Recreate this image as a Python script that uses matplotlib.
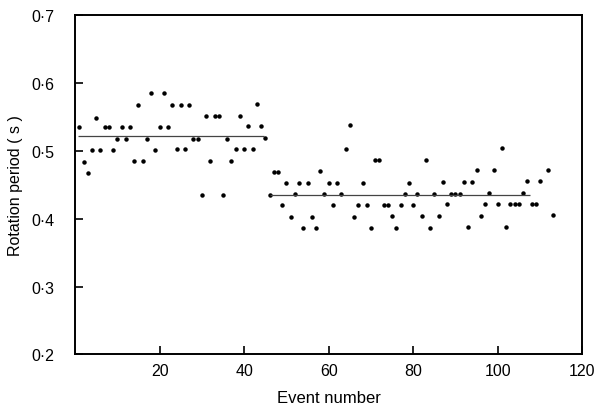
import numpy as np
import matplotlib.pyplot as plt
from matplotlib.ticker import FuncFormatter

# event numbers and rotation period (s)
events_1 = list(range(1, 46))
period_1 = [0.535, 0.484, 0.467, 0.501, 0.549, 0.501, 0.535, 0.535, 0.501, 0.517,
            0.535, 0.518, 0.535, 0.485, 0.567, 0.485, 0.518, 0.585, 0.501, 0.535,
            0.585, 0.535, 0.568, 0.502, 0.568, 0.502, 0.568, 0.518, 0.518, 0.435,
            0.551, 0.485, 0.551, 0.551, 0.435, 0.518, 0.485, 0.502, 0.551, 0.502,
            0.536, 0.502, 0.569, 0.536, 0.519]

events_2 = list(range(46, 111)) + [112, 113]
period_2 = [0.435, 0.469, 0.469, 0.420, 0.452, 0.403, 0.436, 0.452, 0.387, 0.452,
            0.403, 0.387, 0.470, 0.436, 0.453, 0.420, 0.453, 0.436, 0.503, 0.538,
            0.403, 0.420, 0.453, 0.420, 0.387, 0.487, 0.487, 0.420, 0.420, 0.404,
            0.387, 0.420, 0.437, 0.453, 0.420, 0.437, 0.404, 0.487, 0.387, 0.437,
            0.404, 0.454, 0.421, 0.437, 0.437, 0.437, 0.454, 0.388, 0.454, 0.471,
            0.404, 0.422, 0.438, 0.471, 0.422, 0.504, 0.388, 0.422, 0.422, 0.422,
            0.438, 0.455, 0.422, 0.422, 0.455, 0.472, 0.405]

# mean levels drawn as horizontal lines
mean_1, span_1 = 0.522, (0.7, 44.8)
mean_2, span_2 = 0.435, (46, 107.6)

plt.rcParams['font.family'] = ['Liberation Sans', 'DejaVu Sans']

fig = plt.figure(figsize=(5.96, 4.10), dpi=100)
ax = fig.add_axes([0.126, 0.133, 0.851, 0.828])

ax.plot(events_1, period_1, 'o', color='black', ms=2.2)
ax.plot(events_2, period_2, 'o', color='black', ms=2.2)
ax.hlines(mean_1, *span_1, color='#444444', lw=0.9)
ax.hlines(mean_2, *span_2, color='#444444', lw=0.9)

ax.set_xlim(0, 120)
ax.set_ylim(0.2, 0.7)
ax.set_xticks([20, 40, 60, 80, 100, 120])
ax.set_yticks([0.2, 0.3, 0.4, 0.5, 0.6, 0.7])
ax.yaxis.set_major_formatter(FuncFormatter(lambda v, p: ('%.1f' % v).replace('.', '\u00b7')))

ax.tick_params(axis='x', direction='in', length=6, width=1.2, labelsize=11.5, pad=6)
ax.tick_params(axis='y', direction='in', length=6, width=1.2, labelsize=11.5, pad=15)
for s in ax.spines.values():
    s.set_linewidth(1.4)

ax.set_xlabel('Event number', fontsize=12, labelpad=9)
ax.set_ylabel('Rotation period ( s )', fontsize=11.5, labelpad=6)

fig.savefig('out.png', dpi=100)
